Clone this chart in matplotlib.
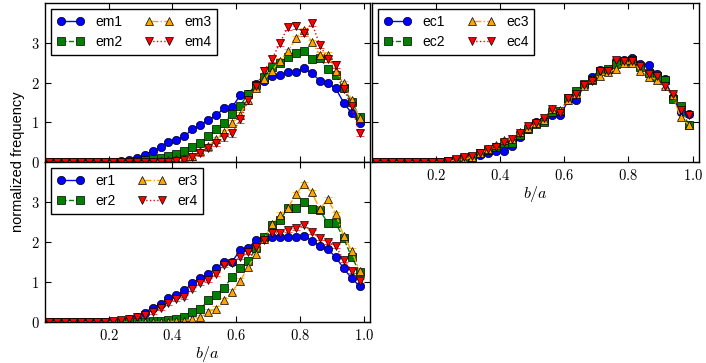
import matplotlib
matplotlib.use('Agg')
import matplotlib.pyplot as plt

plt.rcParams['mathtext.fontset'] = 'cm'
plt.rcParams['font.family'] = ['Liberation Sans', 'DejaVu Sans']

# bin centres of b/a
x = [0.0125, 0.0375, 0.0625, 0.0875, 0.1125, 0.1375, 0.1625, 0.1875, 0.2125, 0.2375,
     0.2625, 0.2875, 0.3125, 0.3375, 0.3625, 0.3875, 0.4125, 0.4375, 0.4625, 0.4875,
     0.5125, 0.5375, 0.5625, 0.5875, 0.6125, 0.6375, 0.6625, 0.6875, 0.7125, 0.7375,
     0.7625, 0.7875, 0.8125, 0.8375, 0.8625, 0.8875, 0.9125, 0.9375, 0.9625, 0.9875]

em_labels = ['em1', 'em2', 'em3', 'em4']
em1 = [0, 0, 0, 0, 0, 0, 0, 0, 0.01, 0.03,
       0.05, 0.09, 0.18, 0.28, 0.37, 0.50, 0.55, 0.65, 0.82, 0.94,
       1.05, 1.18, 1.35, 1.38, 1.68, 1.70, 1.96, 2.05, 2.16, 2.18,
       2.26, 2.27, 2.36, 2.23, 2.05, 1.98, 1.85, 1.49, 1.23, 0.98]
em2 = [0, 0, 0, 0, 0, 0, 0, 0, 0, 0,
       0.01, 0.02, 0.04, 0.07, 0.10, 0.14, 0.19, 0.28, 0.37, 0.48,
       0.66, 0.82, 0.99, 1.22, 1.42, 1.71, 1.93, 2.15, 2.38, 2.50,
       2.63, 2.73, 2.78, 2.58, 2.62, 2.34, 2.19, 1.85, 1.52, 1.14]
em3 = [0, 0, 0, 0, 0, 0, 0, 0, 0, 0,
       0, 0, 0, 0.01, 0.02, 0.04, 0.07, 0.10, 0.16, 0.27,
       0.40, 0.58, 0.75, 0.99, 1.19, 1.55, 1.85, 2.08, 2.30, 2.55,
       2.78, 3.12, 3.32, 3.02, 2.70, 2.70, 2.30, 1.98, 1.55, 1.10]
em4 = [0, 0, 0, 0, 0, 0, 0, 0, 0, 0,
       0, 0, 0, 0, 0, 0.01, 0.02, 0.05, 0.12, 0.22,
       0.35, 0.47, 0.62, 0.72, 1.07, 1.55, 1.90, 2.30, 2.59, 3.00,
       3.40, 3.43, 3.24, 3.49, 2.95, 2.59, 2.45, 1.84, 1.40, 0.73]
em_err = [0.03, 0.04, 0.06, 0.08]

er_labels = ['er1', 'er2', 'er3', 'er4']
er1 = [0, 0, 0, 0, 0, 0, 0, 0, 0.01, 0.03,
       0.07, 0.13, 0.23, 0.36, 0.44, 0.60, 0.67, 0.79, 0.97, 1.09,
       1.20, 1.35, 1.50, 1.51, 1.80, 1.84, 2.05, 2.08, 2.12, 2.12,
       2.13, 2.13, 2.16, 2.03, 1.90, 1.82, 1.62, 1.34, 1.09, 0.90]
er2 = [0, 0, 0, 0, 0, 0, 0, 0, 0, 0,
       0, 0, 0.01, 0.02, 0.03, 0.05, 0.07, 0.12, 0.25, 0.32,
       0.55, 0.68, 0.86, 1.13, 1.34, 1.53, 1.84, 2.12, 2.42, 2.55,
       2.85, 2.84, 3.00, 2.82, 2.79, 2.48, 2.47, 2.09, 1.62, 1.26]
er3 = [0, 0, 0, 0, 0, 0, 0, 0, 0, 0,
       0, 0, 0, 0, 0, 0.01, 0.02, 0.03, 0.07, 0.12,
       0.26, 0.33, 0.55, 0.76, 1.03, 1.37, 1.70, 2.08, 2.44, 2.68,
       2.86, 3.19, 3.45, 3.24, 2.82, 3.07, 2.70, 2.15, 1.78, 1.27]
er4 = [0, 0, 0, 0, 0, 0, 0, 0.01, 0.03, 0.05,
       0.07, 0.12, 0.18, 0.26, 0.34, 0.48, 0.57, 0.63, 0.82, 0.98,
       1.05, 1.20, 1.43, 1.47, 1.63, 1.74, 1.87, 2.05, 2.22, 2.23,
       2.30, 2.34, 2.42, 2.26, 2.09, 2.01, 1.90, 1.55, 1.28, 1.03]
er_err = [0.03, 0.04, 0.06, 0.05]

ec_labels = ['ec1', 'ec2', 'ec3', 'ec4']
ec1 = [0, 0, 0, 0, 0, 0, 0, 0, 0.01, 0.02,
       0.05, 0.08, 0.12, 0.18, 0.23, 0.28, 0.28, 0.40, 0.63, 0.82,
       1.00, 1.05, 1.18, 1.18, 1.55, 1.57, 1.93, 2.15, 2.32, 2.32,
       2.55, 2.57, 2.62, 2.47, 2.45, 2.22, 2.09, 1.63, 1.26, 1.20]
ec2 = [0, 0, 0, 0, 0, 0, 0, 0, 0.01, 0.03,
       0.06, 0.09, 0.13, 0.22, 0.30, 0.38, 0.47, 0.48, 0.69, 0.82,
       0.95, 1.00, 1.26, 1.28, 1.60, 1.78, 1.97, 2.07, 2.28, 2.35,
       2.47, 2.55, 2.57, 2.38, 2.23, 2.15, 2.07, 1.59, 1.40, 0.93]
ec3 = [0, 0, 0, 0, 0, 0, 0, 0, 0, 0.02,
       0.05, 0.06, 0.13, 0.22, 0.32, 0.43, 0.55, 0.58, 0.76, 0.85,
       0.97, 1.05, 1.34, 1.30, 1.55, 1.70, 1.92, 2.10, 2.17, 2.26,
       2.34, 2.48, 2.50, 2.30, 2.15, 2.07, 1.90, 1.68, 1.12, 0.94]
ec4 = [0, 0, 0, 0, 0, 0, 0, 0, 0.01, 0.03,
       0.07, 0.12, 0.16, 0.23, 0.32, 0.38, 0.51, 0.57, 0.72, 0.90,
       0.97, 1.10, 1.34, 1.23, 1.60, 1.70, 1.93, 2.05, 2.30, 2.30,
       2.57, 2.53, 2.53, 2.42, 2.22, 2.17, 1.90, 1.72, 1.32, 1.18]
ec_err = [0.03, 0.04, 0.05, 0.05]

xticks = [0.2, 0.4, 0.6, 0.8, 1.0]
xtick_labels = ['$0.2$', '$0.4$', '$0.6$', '$0.8$', '$1.0$']
yticks = [0, 1, 2, 3]
ytick_labels = ['$0$', '$1$', '$2$', '$3$']

styles = [('o', '-', '#0000ff'),
          ('s', '--', '#007f00'),
          ('^', '-.', '#ffa500'),
          ('v', ':', '#ff0000')]

W, H = 706.0, 363.0
fig = plt.figure(figsize=(W / 100, H / 100), dpi=100)
ax_em = fig.add_axes([45 / W, 1 - 162 / H, 325 / W, 159 / H])
ax_er = fig.add_axes([45 / W, 1 - 322 / H, 325 / W, 160 / H])
ax_ec = fig.add_axes([372 / W, 1 - 162 / H, 327 / W, 159 / H])


def draw(ax, series, labels, errs):
    handles = []
    for y, lab, err, (m, ls, c) in zip(series, labels, errs, styles):
        cont = ax.errorbar(x, y, yerr=err, marker=m, ls=ls, color=c, mfc=c,
                           mec='k', mew=0.5, ms=6.0, lw=1.0, elinewidth=1.0,
                           capsize=3, capthick=1.0, label=lab)
        handles.append(cont[0])
    ax.set_xlim(0, 1.02)
    ax.set_ylim(0, 4)
    ax.set_xticks(xticks)
    ax.set_yticks(yticks)
    ax.tick_params(direction='in', top=True, right=True, length=4, width=0.8,
                   labelsize=10.5, pad=4)
    for s in ax.spines.values():
        s.set_linewidth(1.0)
    leg = ax.legend(handles=handles, labels=labels, loc='upper left', ncol=2,
                    numpoints=2, fontsize=10, handlelength=2.0,
                    columnspacing=1.6, labelspacing=0.45, handletextpad=0.8,
                    borderaxespad=0.45, borderpad=0.4, fancybox=False,
                    framealpha=1.0)
    leg.get_frame().set_edgecolor('k')
    leg.get_frame().set_linewidth(1.0)


draw(ax_em, [em1, em2, em3, em4], em_labels, em_err)
draw(ax_er, [er1, er2, er3, er4], er_labels, er_err)
draw(ax_ec, [ec1, ec2, ec3, ec4], ec_labels, ec_err)

ax_em.set_xticklabels([])
ax_em.set_yticklabels(ytick_labels)
ax_er.set_yticklabels(ytick_labels)
ax_er.set_xticklabels(xtick_labels)
ax_ec.set_xticklabels(xtick_labels)
ax_ec.set_yticklabels([])

ax_er.set_xlabel('$b/a$', fontsize=11.5, labelpad=1)
ax_ec.set_xlabel('$b/a$', fontsize=11.5, labelpad=1)

fig.text(18 / W, 1 - 162 / H, 'normalized frequency', rotation=90,
         ha='center', va='center', fontsize=10.5)

fig.savefig('out.png', dpi=100, facecolor='white')
